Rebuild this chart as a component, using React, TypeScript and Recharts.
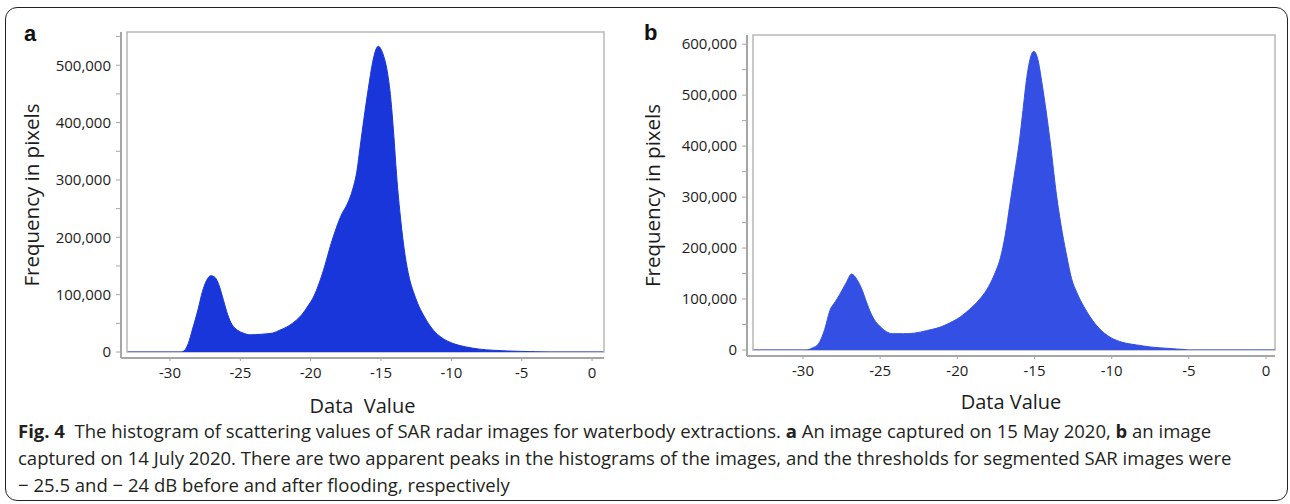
import React from 'react';
import { AreaChart, Area, XAxis, YAxis, ReferenceArea, Label } from 'recharts';

// Panel a: 15 May 2020 (dB value -> pixel count)
const dbA = [-33, -29.2, -29.0, -28.7, -28.4, -28.0, -27.7, -27.4, -27.1, -26.8, -26.5, -26.2, -25.9, -25.6, -25.2, -24.8, -24.3, -23.5, -22.7, -22.2, -21.6, -21.0, -20.6, -20.2, -19.8, -19.4, -19.0, -18.6, -18.2, -17.8, -17.4, -17.0, -16.7, -16.5, -16.2, -15.9, -15.6, -15.4, -15.2, -15.0, -14.8, -14.6, -14.3, -14.1, -13.9, -13.6, -13.3, -13.0, -12.7, -12.4, -12.0, -11.5, -11.0, -10.5, -10.0, -9.0, -8.0, -7.0, -6.0, -5.0, -4.0, -3.0, 0.8];
const countA = [0, 0, 2000, 15000, 40000, 75000, 105000, 125000, 133000, 130000, 115000, 90000, 65000, 48000, 38000, 33000, 30000, 31000, 33000, 38000, 45000, 56000, 66000, 80000, 96000, 120000, 150000, 185000, 215000, 240000, 258000, 285000, 318000, 355000, 410000, 460000, 505000, 525000, 533000, 528000, 515000, 495000, 440000, 380000, 310000, 230000, 170000, 130000, 105000, 85000, 65000, 45000, 31000, 22000, 16000, 9000, 5000, 3000, 1800, 1000, 400, 0, 0];

// Panel b: 14 July 2020
const dbB = [-33.2, -29.8, -29.4, -29.0, -28.6, -28.25, -27.9, -27.6, -27.2, -26.85, -26.5, -26.2, -25.9, -25.6, -25.3, -25.0, -24.6, -24.2, -23.5, -22.8, -22.0, -21.1, -20.5, -19.8, -19.2, -18.6, -18.1, -17.6, -17.2, -16.9, -16.6, -16.3, -16.0, -15.75, -15.5, -15.25, -15.05, -14.8, -14.5, -14.0, -13.55, -13.2, -12.9, -12.6, -12.25, -11.8, -11.4, -10.8, -10.1, -9.3, -8.4, -7.5, -6.5, -5.8, -5.3, -5.0, 0.6];
const countB = [0, 0, 4000, 12000, 40000, 78000, 95000, 110000, 132000, 149000, 138000, 120000, 95000, 72000, 56000, 46000, 36000, 32000, 32000, 33000, 38000, 45000, 53000, 65000, 80000, 98000, 118000, 148000, 182000, 225000, 285000, 345000, 405000, 470000, 535000, 575000, 586000, 572000, 520000, 412000, 298000, 230000, 182000, 140000, 112000, 85000, 65000, 42000, 25000, 15000, 10000, 6000, 3500, 2000, 1000, 0, 0];

const xTicks = [-30, -25, -20, -15, -10, -5, 0];
const yTicksA = [0, 50000, 100000, 150000, 200000, 250000, 300000, 350000, 400000, 450000, 500000, 550000];
const yTicksB = [0, 50000, 100000, 150000, 200000, 250000, 300000, 350000, 400000, 450000, 500000, 550000, 600000];

const dataA = dbA.map((db, i) => ({ db, count: countA[i] }));
const dataB = dbB.map((db, i) => ({ db, count: countB[i] }));

const FONT = '"Open Sans", "DejaVu Sans", sans-serif';
const AXIS = '#a6a6a6';
const TEXT = '#1c1c1c';

const fmtY = (v: number) => (v % 100000 === 0 ? v.toLocaleString('en-US') : '');

function YTitle({ viewBox, value, dx }: any) {
  const cx = viewBox.x + dx;
  const cy = viewBox.y + viewBox.height / 2;
  return (
    <text x={cx} y={cy} transform={`rotate(-90 ${cx} ${cy})`} textAnchor="middle" dominantBaseline="central"
      fill={TEXT} fontSize={20.5} fontFamily={FONT}>{value}</text>
  );
}

function XTitle({ viewBox, value, dy }: any) {
  const cx = viewBox.x + viewBox.width / 2;
  return (
    <text x={cx} y={viewBox.y + dy} textAnchor="middle" dominantBaseline="central"
      fill={TEXT} fontSize={20} fontFamily={FONT} style={{ whiteSpace: 'pre' }}>{value}</text>
  );
}

function Histogram({ data, domainX, domainY, yTicks, color, yWidth, xHeight, margin, width, height, titleDx, titleDy, xTitle }: any) {
  return (
    <AreaChart width={width} height={height} data={data} margin={margin}>
      <ReferenceArea x1={domainX[0]} x2={domainX[1]} y1={0} y2={domainY[1]} fill="none" stroke="#b8b8b8" strokeWidth={1.5} ifOverflow="visible" />
      <XAxis type="number" dataKey="db" domain={domainX} allowDataOverflow ticks={xTicks} interval={0}
        padding={{ left: 6, right: 0 }} height={xHeight}
        axisLine={{ stroke: AXIS, strokeWidth: 2 }} tickLine={{ stroke: AXIS }} tickSize={3} tickMargin={6}
        tick={{ fill: TEXT, fontSize: 15, fontFamily: FONT }}>
        <Label content={<XTitle value={xTitle} dy={titleDy} />} />
      </XAxis>
      <YAxis type="number" dataKey="count" domain={domainY} allowDataOverflow ticks={yTicks} interval={0}
        padding={{ top: 0, bottom: 6 }} width={yWidth} tickFormatter={fmtY}
        axisLine={{ stroke: AXIS, strokeWidth: 2 }} tickLine={{ stroke: AXIS }} tickSize={5} tickMargin={5}
        tick={{ fill: TEXT, fontSize: 15, fontFamily: FONT }}>
        <Label content={<YTitle value="Frequency in pixels" dx={titleDx} />} />
      </YAxis>
      <Area type="monotone" dataKey="count" stroke={color} strokeWidth={1} fill={color} fillOpacity={1}
        isAnimationActive={false} dot={false} activeDot={false} />
    </AreaChart>
  );
}

export default function App() {
  return (
    <div style={{ position: 'absolute', left: 0, top: 0, width: 1290, height: 504, background: '#fff', overflow: 'hidden', fontFamily: FONT }}>
      <div style={{ position: 'absolute', left: 5, top: 7, width: 1283, height: 494, border: '1.5px solid #222', borderRadius: 12, boxSizing: 'border-box' }} />
      <div style={{ position: 'absolute', left: 0, top: 0 }}>
        <Histogram data={dataA} domainX={[-33.06, 0.85]} domainY={[0, 558000]} yTicks={yTicksA} color="#1836da"
          yWidth={121} xHeight={62} width={620} height={420} margin={{ top: 32, right: 16, bottom: 0, left: 0 }}
          titleDx={31} titleDy={47} xTitle={'Data  Value'} />
      </div>
      <div style={{ position: 'absolute', left: 630, top: 0 }}>
        <Histogram data={dataB} domainX={[-33.24, 0.58]} domainY={[0, 618000]} yTicks={yTicksB} color="#3450e4"
          yWidth={117} xHeight={64} width={660} height={420} margin={{ top: 35, right: 15, bottom: 0, left: 0 }}
          titleDx={22} titleDy={45} xTitle={'Data Value'} />
      </div>
      <div style={{ position: 'absolute', left: 24, top: 21, fontFamily: 'Arial, "Liberation Sans", sans-serif', fontWeight: 700, fontSize: 22, color: '#111' }}>a</div>
      <div style={{ position: 'absolute', left: 644, top: 20, fontFamily: 'Arial, "Liberation Sans", sans-serif', fontWeight: 700, fontSize: 22, color: '#111' }}>b</div>
      <div style={{ position: 'absolute', left: 18, top: 417, fontSize: 18.5, lineHeight: '27px', color: '#231f20', whiteSpace: 'nowrap' }}>
        <b>Fig. 4</b>&nbsp; The histogram of scattering values of SAR radar images for waterbody extractions. <b>a</b> An image captured on 15 May 2020, <b>b</b> an image<br />
        captured on 14 July 2020. There are two apparent peaks in the histograms of the images, and the thresholds for segmented SAR images were<br />
        − 25.5 and − 24 dB before and after flooding, respectively
      </div>
    </div>
  );
}
